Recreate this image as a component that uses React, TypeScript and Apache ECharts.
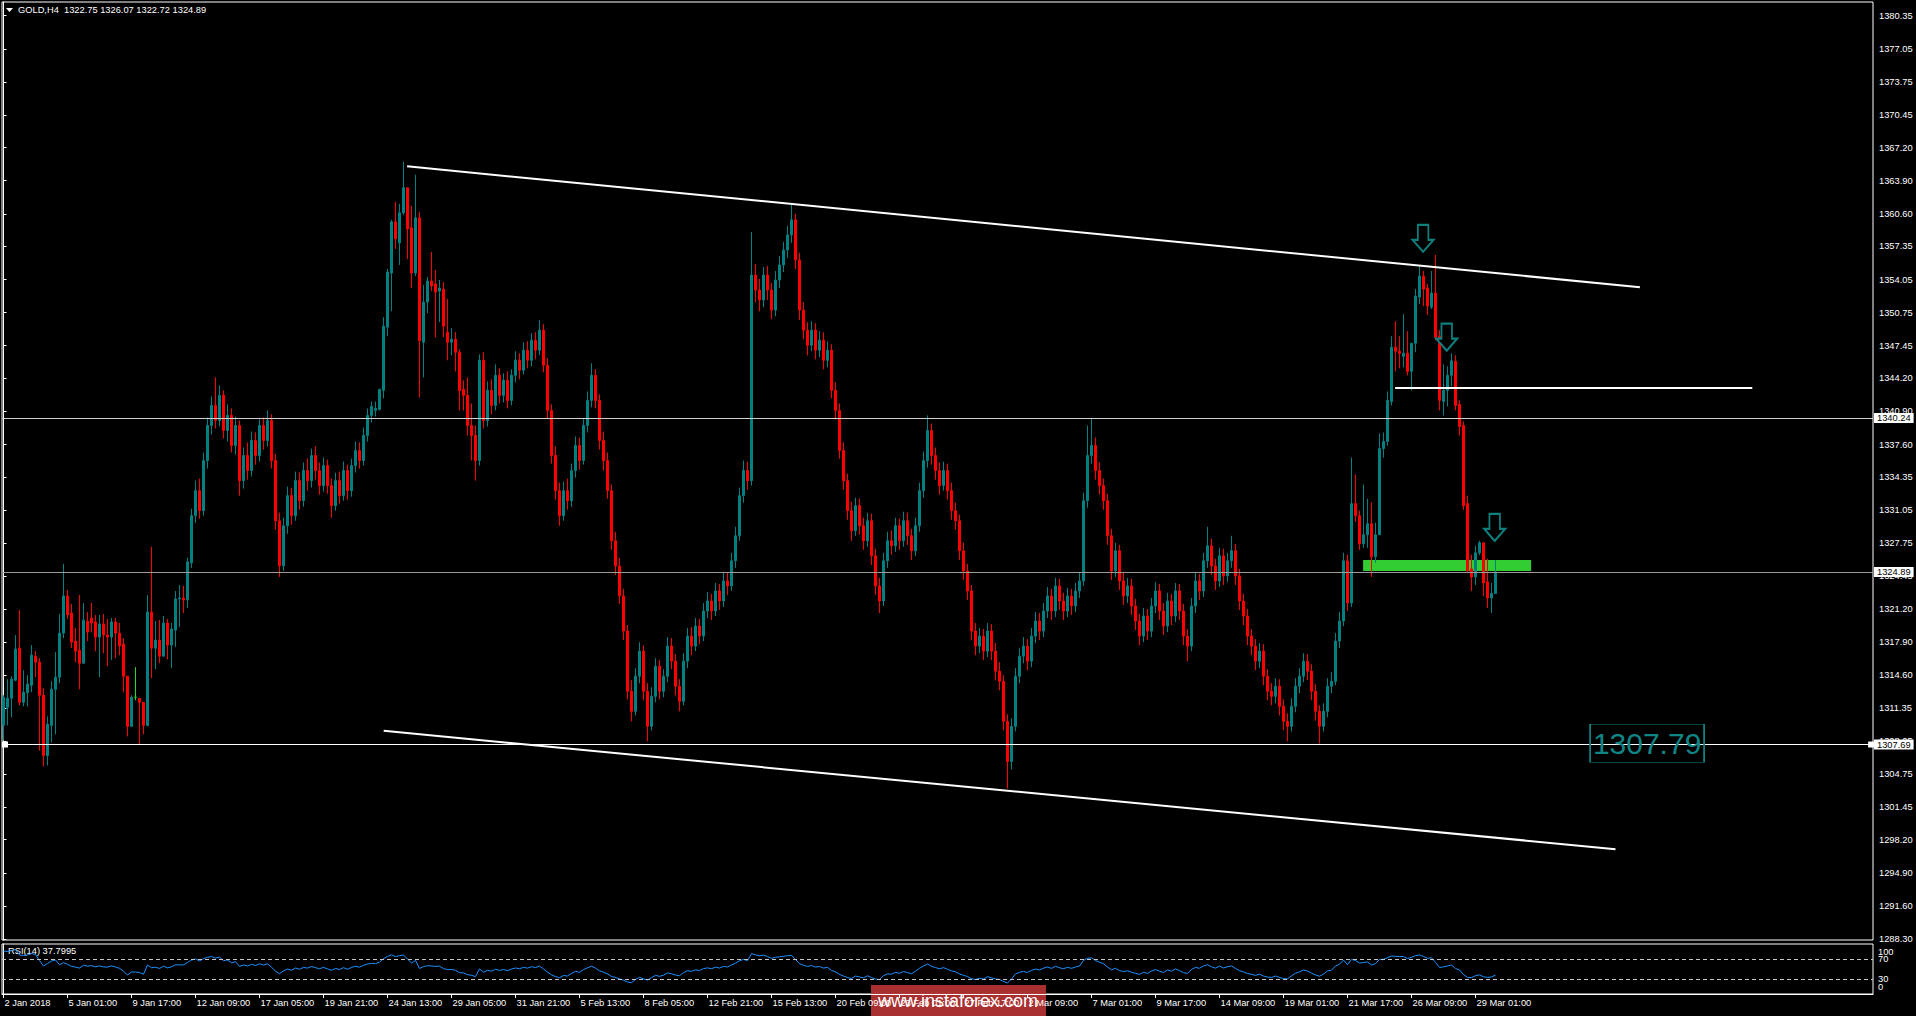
import React, { useEffect, useRef } from 'react';
import * as echarts from 'echarts';

// [open, close, low, high] per H4 bar
const ohlc: number[][] = [
[1309.6,1312.4,1308.1,1312.6],[1311.4,1312.3,1309.6,1314.2],[1312.3,1314.2,1310.4,1314.5],[1314.1,1317.2,1314.0,1318.6],[1317.3,1311.9,1311.6,1321.1],
[1311.9,1312.9,1311.5,1315.1],[1312.85,1313.7,1311.5,1314.6],[1313.6,1316.6,1312.9,1317.6],[1316.5,1315.9,1314.4,1317.0],[1315.9,1312.6,1307.1,1316.3],
[1312.6,1306.6,1305.5,1313.3],[1306.6,1309.7,1305.6,1310.5],[1309.6,1313.2,1307.9,1314.0],[1313.2,1314.4,1308.7,1316.9],[1314.4,1318.8,1313.8,1320.7],
[1318.8,1322.5,1318.3,1325.7],[1322.5,1320.6,1320.2,1323.1],[1320.8,1317.9,1317.3,1321.7],[1318.0,1317.0,1315.9,1319.3],[1317.1,1315.8,1313.2,1322.6],
[1315.8,1320.1,1315.8,1321.8],[1320.0,1318.9,1318.0,1320.9],[1320.3,1319.8,1318.9,1321.8],[1319.9,1318.4,1317.0,1320.6],[1318.4,1319.7,1314.4,1320.6],
[1319.7,1318.6,1316.8,1320.7],[1318.6,1318.4,1315.5,1320.2],[1318.4,1319.9,1316.1,1320.3],[1319.9,1318.8,1316.3,1320.3],[1318.8,1317.5,1316.6,1319.8],
[1317.7,1314.5,1312.9,1318.3],[1314.5,1309.5,1308.5,1314.5],[1309.5,1312.4,1309.5,1312.6],[1312.4,1312.4,1312.1,1315.4],[1312.3,1311.9,1307.7,1312.3],
[1311.9,1309.6,1308.7,1311.9],[1309.6,1320.9,1309.5,1322.6],[1320.9,1317.3,1314.3,1327.4],[1317.3,1318.1,1315.2,1320.0],[1318.1,1316.5,1315.8,1320.1],
[1316.5,1319.8,1316.5,1320.5],[1319.8,1317.6,1316.2,1320.2],[1317.6,1319.2,1315.3,1319.8],[1319.1,1322.2,1317.4,1323.0],[1322.2,1322.3,1319.4,1323.6],
[1322.3,1322.1,1320.8,1323.5],[1322.1,1325.9,1321.3,1326.3],
// 47
[1325.8,1330.5,1325.3,1331.2],[1330.5,1333.0,1329.8,1334.0],[1333.0,1331.0,1330.2,1334.2],
[1331.0,1336.0,1330.5,1336.8],[1336.0,1339.5,1335.2,1340.3],[1339.5,1341.5,1338.6,1342.4],[1341.5,1340.0,1339.2,1344.3],[1340.0,1342.5,1339.4,1343.5],
[1342.5,1339.0,1338.2,1343.0],[1339.0,1340.5,1337.9,1341.6],[1340.5,1337.5,1336.8,1341.2],[1337.5,1339.5,1336.6,1340.4],[1339.5,1334.0,1332.5,1340.0],
[1334.0,1336.5,1333.2,1337.3],[1336.5,1335.0,1334.1,1337.8],[1335.0,1338.0,1334.4,1338.9],[1338.0,1336.5,1335.6,1338.8],[1336.5,1339.5,1335.9,1340.1],
[1339.5,1338.0,1337.1,1340.3],[1338.0,1340.0,1337.4,1341.0],[1340.0,1336.0,1335.2,1340.6],[1336.0,1330.0,1329.1,1336.7],[1330.0,1325.5,1324.4,1330.8],
[1325.5,1329.5,1325.0,1330.3],[1329.5,1332.5,1328.7,1333.4],[1332.5,1330.5,1329.6,1333.3],[1330.5,1334.0,1330.0,1334.9],[1334.0,1332.0,1331.1,1334.8],
[1332.0,1335.0,1331.4,1335.8],[1335.0,1334.0,1333.0,1336.2],[1334.0,1336.5,1333.3,1337.2],[1336.5,1335.0,1334.1,1337.4],[1335.0,1333.5,1332.6,1335.8],
[1333.5,1335.5,1332.9,1336.3],[1335.5,1333.5,1332.7,1336.1],[1333.5,1331.5,1330.3,1334.2],[1331.5,1334.0,1331.0,1334.8],[1334.0,1332.5,1331.7,1334.9],
[1332.5,1335.0,1332.0,1335.9],[1335.0,1333.0,1332.1,1335.6],[1333.0,1335.5,1332.4,1336.2],[1335.5,1337.0,1334.8,1337.9],[1337.0,1336.0,1335.2,1337.8],
[1336.0,1338.5,1335.5,1339.3],[1338.5,1340.5,1337.9,1341.2],[1340.5,1341.4,1339.8,1341.9],[1341.0,1341.2,1340.4,1341.9],
// 94
[1341.1,1343.1,1341.0,1343.1],[1343.0,1349.4,1342.2,1350.3],[1349.3,1354.8,1348.4,1355.1],[1354.7,1359.8,1350.9,1360.0],[1359.8,1358.1,1357.1,1361.8],
[1357.7,1360.7,1355.5,1361.6],[1360.7,1363.2,1360.5,1365.8],[1363.2,1359.1,1356.1,1363.2],[1359.2,1354.7,1353.2,1361.4],[1354.7,1360.2,1354.4,1364.5],
[1360.2,1347.95,1342.3,1360.8],[1347.8,1351.8,1344.3,1353.5],[1351.8,1353.9,1350.7,1354.3],[1353.9,1353.4,1352.9,1356.8],[1353.6,1352.8,1348.3,1355.0],
[1352.9,1353.2,1349.8,1354.0],[1353.1,1349.4,1348.3,1353.8],[1348.8,1347.8,1346.0,1352.1],[1347.8,1348.1,1346.5,1349.2],[1348.1,1346.8,1344.9,1348.8],
[1346.8,1342.95,1341.0,1347.1],[1343.1,1342.5,1341.0,1344.0],
// 116
[1342.5,1339.5,1338.5,1344.3],[1339.5,1338.5,1336.0,1341.7],[1338.5,1336.0,1334.0,1339.5],[1336.0,1346.0,1335.5,1346.6],
// 120
[1346.0,1340.0,1339.2,1346.8],[1340.0,1343.0,1339.4,1343.9],[1343.0,1341.5,1340.6,1344.1],[1341.5,1344.5,1341.0,1345.6],[1344.5,1342.5,1341.7,1345.2],
[1342.5,1344.0,1341.8,1344.7],[1344.0,1342.0,1341.2,1344.9],[1342.0,1344.5,1341.5,1345.1],[1344.5,1346.0,1343.8,1346.9],[1346.0,1345.0,1344.1,1346.7],
[1345.0,1347.0,1344.6,1347.8],[1347.0,1346.0,1345.2,1347.9],[1346.0,1348.0,1345.4,1348.7],[1348.0,1347.0,1346.1,1348.8],[1347.0,1349.0,1346.5,1350.0],
[1349.0,1345.5,1344.8,1349.6],[1345.5,1341.0,1340.2,1346.2],[1341.0,1336.5,1335.7,1341.6],[1336.5,1333.0,1332.1,1337.4],[1333.0,1330.5,1329.5,1333.8],
// 140
[1330.5,1333.0,1330.0,1333.9],[1333.0,1332.0,1331.1,1334.2],[1332.0,1335.0,1331.4,1335.7],[1335.0,1337.5,1334.3,1338.4],[1337.5,1336.0,1335.1,1338.3],
[1336.0,1339.5,1335.6,1340.2],[1339.5,1342.0,1338.8,1342.9],[1342.0,1344.5,1341.3,1345.7],[1344.5,1342.0,1341.2,1345.1],[1342.0,1338.0,1337.1,1342.6],
[1338.0,1336.0,1335.0,1338.9],[1336.0,1333.0,1332.2,1336.8],[1333.0,1328.0,1327.1,1333.6],[1328.0,1325.5,1324.6,1328.9],[1325.5,1322.5,1321.7,1326.3],
[1322.5,1319.0,1318.1,1323.2],[1319.0,1313.0,1312.2,1319.6],[1313.0,1311.0,1310.0,1314.1],[1311.0,1314.5,1310.6,1315.3],[1314.5,1317.0,1313.8,1317.9],
// 160
[1317.0,1313.0,1312.1,1317.6],[1313.0,1309.5,1308.0,1313.8],[1309.5,1312.5,1309.1,1313.4],[1312.5,1315.5,1311.9,1316.3],[1315.5,1313.0,1312.2,1316.1],
[1313.0,1314.5,1312.4,1315.2],[1314.5,1317.5,1313.9,1318.4],[1317.5,1316.0,1315.2,1318.3],[1316.0,1313.5,1312.6,1316.7],[1313.5,1312.0,1311.0,1314.2],
[1312.0,1316.0,1311.6,1316.8],[1316.0,1318.5,1315.3,1319.3],[1318.5,1317.5,1316.6,1319.4],[1317.5,1319.5,1317.0,1320.3],[1319.5,1318.5,1317.7,1320.2],
[1318.5,1321.0,1318.0,1321.8],[1321.0,1322.0,1320.3,1322.9],[1322.0,1321.0,1320.1,1322.7],[1321.0,1323.0,1320.5,1323.8],[1323.0,1322.0,1321.1,1323.7],
// 180
[1322.0,1324.0,1321.4,1324.9],[1324.0,1323.5,1322.6,1324.8],[1323.5,1326.0,1323.0,1326.8],[1326.0,1328.5,1325.3,1329.4],[1328.5,1332.5,1328.0,1333.3],
[1332.5,1335.0,1331.8,1336.0],[1335.0,1334.0,1333.1,1335.9],[1334.0,1354.5,1333.5,1358.8],[1354.5,1353.0,1351.8,1355.6],[1353.0,1352.0,1350.9,1354.1],
[1352.0,1354.5,1351.3,1355.3],[1354.5,1353.0,1352.0,1355.4],[1353.0,1351.0,1350.1,1353.7],[1351.0,1354.0,1350.4,1354.9],[1354.0,1355.5,1353.2,1356.4],
[1355.5,1357.0,1354.8,1357.8],[1357.0,1358.5,1356.2,1359.4],[1358.5,1360.0,1357.7,1361.5],[1360.0,1356.0,1355.1,1360.6],[1356.0,1351.0,1350.0,1356.7],
// 200
[1351.0,1349.0,1348.1,1351.8],[1349.0,1347.5,1346.5,1349.8],[1347.5,1349.0,1346.9,1349.9],[1349.0,1347.0,1346.1,1349.7],[1347.0,1348.0,1346.3,1348.9],
[1348.0,1346.0,1345.1,1348.8],[1346.0,1347.0,1345.3,1347.9],[1347.0,1343.0,1342.2,1347.6],[1343.0,1341.0,1340.1,1343.8],[1341.0,1337.0,1336.2,1341.7],
[1337.0,1334.0,1333.1,1337.8],[1334.0,1331.0,1330.1,1334.7],[1331.0,1329.0,1328.0,1331.9],[1329.0,1331.5,1328.5,1332.3],[1331.5,1329.5,1328.6,1332.2],
[1329.5,1328.0,1327.1,1330.3],[1328.0,1330.0,1327.4,1330.8],[1330.0,1326.5,1325.6,1330.7],[1326.5,1323.5,1322.6,1327.2],[1323.5,1322.0,1320.8,1324.3],
// 220
[1322.0,1326.0,1321.5,1326.8],[1326.0,1328.0,1325.3,1328.9],[1328.0,1327.5,1326.6,1329.0],[1327.5,1329.5,1326.9,1330.3],[1329.5,1328.0,1327.1,1330.2],
[1328.0,1330.0,1327.4,1330.9],[1330.0,1328.5,1327.6,1330.8],[1328.5,1327.0,1326.1,1329.2],[1327.0,1329.5,1326.5,1330.3],[1329.5,1333.0,1328.9,1333.8],
[1333.0,1336.0,1332.3,1336.9],[1336.0,1339.0,1335.3,1340.5],[1339.0,1336.5,1335.6,1339.7],[1336.5,1335.0,1334.1,1337.3],[1335.0,1333.5,1332.6,1335.8],
[1333.5,1335.0,1333.0,1335.9],[1335.0,1333.0,1332.1,1335.7],[1333.0,1331.0,1330.1,1333.8],[1331.0,1330.0,1329.1,1331.8],[1330.0,1327.0,1326.1,1330.6],
// 240
[1327.0,1325.0,1324.1,1327.8],[1325.0,1323.0,1322.1,1325.7],[1323.0,1319.0,1318.1,1323.6],[1319.0,1317.5,1316.6,1319.8],[1317.5,1318.5,1316.8,1319.3],
[1318.5,1317.0,1316.1,1319.2],[1317.0,1319.0,1316.4,1319.8],[1319.0,1317.0,1316.1,1319.7],[1317.0,1315.0,1314.1,1317.8],[1315.0,1314.0,1313.1,1315.9],
[1314.0,1310.0,1309.1,1314.6],[1310.0,1306.0,1303.3,1310.7],[1306.0,1309.5,1305.2,1310.3],[1309.5,1314.5,1309.0,1315.3],[1314.5,1316.5,1313.8,1317.3],
[1316.5,1317.5,1315.8,1318.4],[1317.5,1316.0,1315.1,1318.2],[1316.0,1318.5,1315.4,1319.3],[1318.5,1320.0,1317.8,1320.9],[1320.0,1319.0,1318.1,1320.8],
// 260
[1319.0,1321.0,1318.4,1321.8],[1321.0,1322.5,1320.3,1323.4],[1322.5,1321.0,1320.1,1323.2],[1321.0,1323.5,1320.4,1324.3],[1323.5,1322.0,1321.1,1324.2],
[1322.0,1321.0,1320.1,1322.8],[1321.0,1322.5,1320.4,1323.3],[1322.5,1321.5,1320.6,1323.2],[1321.5,1323.0,1320.9,1323.8],[1323.0,1324.0,1322.3,1324.9],
[1324.0,1332.0,1323.5,1332.8],[1332.0,1336.5,1331.3,1339.5],[1336.5,1337.5,1335.7,1340.2],[1337.5,1335.0,1334.1,1338.3],[1335.0,1333.5,1332.6,1335.8],
[1333.5,1332.0,1331.1,1334.2],[1332.0,1328.5,1327.6,1332.7],[1328.5,1325.0,1324.1,1329.2],[1325.0,1327.0,1324.4,1327.8],[1327.0,1324.0,1323.1,1327.6],
// 280
[1324.0,1322.5,1321.6,1324.8],[1322.5,1323.5,1321.8,1324.3],[1323.5,1321.5,1320.6,1324.2],[1321.5,1320.0,1319.1,1322.2],[1320.0,1318.5,1317.6,1320.7],
[1318.5,1320.5,1317.9,1321.3],[1320.5,1319.0,1318.1,1321.2],[1319.0,1321.5,1318.4,1322.3],[1321.5,1323.0,1320.8,1323.9],[1323.0,1321.0,1320.1,1323.7],
[1321.0,1319.5,1318.6,1321.8],[1319.5,1322.0,1318.9,1322.8],[1322.0,1320.5,1319.6,1322.7],[1320.5,1323.0,1319.9,1323.8],[1323.0,1321.0,1320.1,1323.7],
[1321.0,1318.5,1317.6,1321.7],[1318.5,1317.5,1316.0,1319.2],[1317.5,1321.5,1317.0,1322.3],[1321.5,1324.0,1320.8,1324.9],[1324.0,1323.0,1322.1,1324.7],
// 300
[1323.0,1326.0,1322.4,1326.8],[1326.0,1327.5,1325.3,1329.4],[1327.5,1325.5,1324.6,1328.2],[1325.5,1324.0,1323.1,1326.2],[1324.0,1326.5,1323.4,1327.3],
[1326.5,1324.5,1323.6,1327.2],[1324.5,1326.0,1323.9,1326.8],[1326.0,1327.0,1325.3,1328.5],[1327.0,1324.5,1323.6,1327.7],[1324.5,1322.0,1321.1,1325.2],
[1322.0,1320.5,1319.6,1322.7],[1320.5,1318.5,1317.6,1321.2],[1318.5,1317.5,1316.6,1319.2],[1317.5,1316.0,1315.1,1318.2],[1316.0,1317.0,1315.3,1317.8],
[1317.0,1314.5,1313.6,1317.7],[1314.5,1313.0,1312.1,1315.2],[1313.0,1312.5,1311.6,1313.8],[1312.5,1313.5,1311.8,1314.3],[1313.5,1311.5,1310.6,1314.2],
// 320
[1311.5,1310.0,1309.1,1312.2],[1310.0,1309.5,1308.0,1310.8],[1309.5,1311.5,1309.0,1312.3],[1311.5,1313.5,1310.9,1314.3],[1313.5,1314.5,1312.8,1315.3],
[1314.5,1316.0,1313.9,1316.8],[1316.0,1315.0,1314.1,1316.7],[1315.0,1313.0,1312.1,1315.7],[1313.0,1311.0,1310.1,1313.7],[1311.0,1309.5,1307.8,1311.6],
[1309.5,1311.0,1309.0,1311.8],[1311.0,1313.5,1310.4,1314.3],[1313.5,1314.0,1312.8,1314.9],[1314.0,1318.0,1313.6,1318.8],[1318.0,1320.0,1317.3,1320.9],
[1320.0,1326.0,1319.5,1326.8],[1326.0,1321.8,1321.0,1326.6],
// 337
[1321.8,1331.7,1321.4,1336.3],[1331.7,1330.5,1329.9,1334.6],[1330.5,1327.7,1327.1,1331.0],
[1327.7,1328.6,1327.3,1333.6],[1328.6,1329.7,1327.3,1332.2],[1329.7,1326.4,1324.4,1331.8],[1326.4,1328.6,1325.8,1329.8],[1328.6,1337.2,1328.6,1338.7],
[1337.2,1337.9,1336.3,1338.8],[1337.9,1342.0,1337.5,1342.9],[1341.9,1347.3,1341.5,1348.4],[1347.3,1346.9,1344.9,1349.9],[1346.9,1346.7,1345.2,1348.4],
[1346.4,1346.7,1345.3,1350.6],[1346.7,1344.9,1344.5,1348.9],[1344.9,1347.7,1343.0,1347.7],[1347.7,1352.4,1346.8,1353.1],[1352.3,1354.4,1351.6,1355.5],
[1354.4,1353.1,1351.4,1354.9],[1353.2,1351.4,1350.5,1353.6],[1351.3,1352.7,1351.1,1354.9],[1352.7,1348.3,1348.0,1356.5],[1348.4,1342.0,1341.0,1349.0],
[1341.9,1343.0,1340.5,1345.6],[1343.0,1344.5,1341.4,1345.4],[1344.5,1345.95,1343.4,1346.7],[1345.9,1341.5,1341.0,1346.5],[1341.6,1339.4,1338.5,1342.0],
[1339.5,1331.5,1331.1,1339.9],[1331.7,1325.0,1324.8,1332.5],[1325.2,1324.4,1323.0,1326.6],[1324.4,1326.8,1323.6,1327.5],[1326.8,1327.8,1326.6,1328.0],
[1327.8,1323.8,1322.5,1327.8],[1323.9,1322.3,1321.3,1326.2],[1322.3,1322.75,1320.8,1323.8],[1322.75,1324.89,1322.72,1326.07]
];

// RSI(14) for the first bars (history before the visible window)
const rsiHead = [86, 85, 87, 89, 78, 77, 78, 81, 79, 67, 56, 61, 66, 68];
const rsiLevels = [30, 70];
const rsiEdgeLabels = ['100', '0'];

const dateLabels = [
  '2 Jan 2018', '5 Jan 01:00', '9 Jan 17:00', '12 Jan 09:00', '17 Jan 05:00', '19 Jan 21:00',
  '24 Jan 13:00', '29 Jan 05:00', '31 Jan 21:00', '5 Feb 13:00', '8 Feb 05:00', '12 Feb 21:00',
  '15 Feb 13:00', '20 Feb 09:00', '23 Feb 01:00', '27 Feb 17:00', '2 Mar 09:00', '7 Mar 01:00',
  '9 Mar 17:00', '14 Mar 09:00', '19 Mar 01:00', '21 Mar 17:00', '26 Mar 09:00', '29 Mar 01:00'
];
const barsPerDateLabel = 16;

const priceTickLabels = [
  '1288.30', '1291.60', '1294.90', '1298.20', '1301.45', '1304.75', '1308.05', '1311.35', '1314.60',
  '1317.90', '1321.20', '1324.45', '1327.75', '1331.05', '1334.35', '1337.60', '1340.90', '1344.20',
  '1347.45', '1350.75', '1354.05', '1357.35', '1360.60', '1363.90', '1367.20', '1370.45', '1373.75',
  '1377.05', '1380.35'
];

// annotations (data coordinates: [bar index, price])
const upperTrend = [[100.9, 1365.34], [409.1, 1353.28]];
const lowerTrend = [[95.05, 1309.06], [403.0, 1297.25]];
const resistanceSeg = [[347.9, 1343.3], [437.2, 1343.3]];
const hLines = [1340.24, 1324.89, 1307.69];
const greenZone = [[339.9, 1326.08], [381.9, 1324.99]];
const arrows = [[354.9, 1358.16], [360.8, 1348.3], [372.8, 1329.34]];
const priceNote = { at: [410.9, 1307.82], text: '1307.79' };
const lineHandles = [[0.375, 1307.69], [466.9, 1307.69]];

const titleText = 'GOLD,H4  1322.75 1326.07 1322.72 1324.89';
const rsiText = 'RSI(14) 37.7995';

const FONT = '"Liberation Sans", Arial, sans-serif';
const FS = 9.3;
const UP = '#008080';
const DOWN = '#ff0000';
const DOJI = '#22dd22';
const XMIN = -0.375;
const XMAX = 467.375;

function rsi(closes: number[], period: number, head: number[]) {
  const out: (number | null)[] = head.slice();
  let ag = 0, al = 0;
  for (let i = 1; i <= period; i++) {
    const d = closes[i] - closes[i - 1];
    ag += Math.max(d, 0); al += Math.max(-d, 0);
  }
  ag /= period; al /= period;
  out.push(al === 0 ? 100 : 100 - 100 / (1 + ag / al));
  for (let i = period + 1; i < closes.length; i++) {
    const d = closes[i] - closes[i - 1];
    ag = (ag * (period - 1) + Math.max(d, 0)) / period;
    al = (al * (period - 1) + Math.max(-d, 0)) / period;
    out.push(al === 0 ? 100 : 100 - 100 / (1 + ag / al));
  }
  return out;
}

export default function App() {
  const ref = useRef<HTMLDivElement>(null);
  useEffect(() => {
    document.body.style.margin = '0';
    document.body.style.background = '#000';
    const chart = echarts.init(ref.current!, null, { renderer: 'svg' });
    const closes = ohlc.map(r => r[1]);
    const rsiVals = rsi(closes, 14, rsiHead);
    const candleData = ohlc.map((r, i) => {
      const v = [i, r[0], r[1], r[2], r[3]];
      return r[0] === r[1]
        ? { value: v, itemStyle: { color: DOJI, color0: DOJI, borderColor: DOJI, borderColor0: DOJI } }
        : v;
    });
    const priceBox = (txt: string) => ({
      show: true, position: 'end', distance: 1, formatter: txt, color: '#000', backgroundColor: '#fff',
      padding: [1, 3, 0, 3], fontSize: FS, fontFamily: FONT,
    });
    const arrowPath = 'path://M5.25,0L15.75,0L15.75,15L21,15L10.5,27L0,15L5.25,15Z';
    const option: any = {
      animation: false,
      backgroundColor: '#000',
      grid: [
        { left: 2, top: 2, width: 1871, height: 938, show: true, borderColor: '#fff', borderWidth: 1, backgroundColor: '#000' },
        { left: 2, top: 944, width: 1871, height: 50, show: true, borderColor: '#fff', borderWidth: 1, backgroundColor: '#000' },
      ],
      xAxis: [
        { type: 'value', gridIndex: 0, min: XMIN, max: XMAX, axisLine: { show: false }, axisTick: { show: false }, axisLabel: { show: false }, splitLine: { show: false } },
        {
          type: 'value', gridIndex: 1, min: XMIN, max: XMAX, position: 'bottom',
          axisLine: { show: true, lineStyle: { color: '#fff', width: 1 } },
          axisTick: { show: true, length: 4, lineStyle: { color: '#fff' }, customValues: dateLabels.map((_, k) => k * barsPerDateLabel) },
          axisLabel: {
            show: true, customValues: dateLabels.map((_, k) => k * barsPerDateLabel),
            formatter: (v: number) => dateLabels[Math.round(v / barsPerDateLabel)] || '',
            color: '#fff', fontSize: FS, fontFamily: FONT, align: 'left', margin: 4, padding: [0, 0, 0, 1],
            showMinLabel: true, showMaxLabel: true,
          },
          splitLine: { show: false },
        },
      ],
      yAxis: [
        {
          type: 'value', gridIndex: 0, position: 'right', min: 1288.2, max: 1381.72, scale: true,
          axisLine: { show: true, lineStyle: { color: '#fff', width: 1 } },
          axisTick: { show: true, inside: false, length: 3, lineStyle: { color: '#fff' }, customValues: priceTickLabels.map(Number) },
          axisLabel: { show: true, customValues: priceTickLabels.map(Number), formatter: (v: number) => v.toFixed(2), color: '#fff', fontSize: FS, fontFamily: FONT, margin: 6, showMinLabel: true, showMaxLabel: true },
          splitLine: { show: false },
        },
        {
          type: 'value', gridIndex: 1, position: 'right', min: 0, max: 100,
          axisLine: { show: true, lineStyle: { color: '#fff', width: 1 } },
          axisTick: { show: false },
          axisLabel: {
            show: true, customValues: rsiLevels, margin: 5, color: '#fff', fontSize: FS, fontFamily: FONT,
            formatter: (v: number) => String(v),
          },
          splitLine: { show: false },
        },
      ],
      series: [
        {
          type: 'candlestick', xAxisIndex: 0, yAxisIndex: 0,
          dimensions: ['i', 'open', 'close', 'low', 'high'],
          encode: { x: 0, y: [1, 2, 3, 4] },
          data: candleData, barWidth: 2,
          itemStyle: { color: UP, color0: DOWN, borderColor: UP, borderColor0: DOWN, borderWidth: 1 },
          markArea: {
            silent: true, itemStyle: { color: '#32cd32', opacity: 1 },
            data: [[{ coord: greenZone[0] }, { coord: greenZone[1] }]],
          },
          markLine: {
            silent: true, symbol: ['none', 'none'], label: { show: false },
            data: [
              [{ coord: upperTrend[0], lineStyle: { color: '#fff', width: 2, type: 'solid' } }, { coord: upperTrend[1] }],
              [{ coord: lowerTrend[0], lineStyle: { color: '#fff', width: 2, type: 'solid' } }, { coord: lowerTrend[1] }],
              [{ coord: resistanceSeg[0], lineStyle: { color: '#fff', width: 2, type: 'solid' } }, { coord: resistanceSeg[1] }],
              { yAxis: hLines[0], lineStyle: { color: '#d0d0d0', width: 1, type: 'solid' }, label: priceBox(hLines[0].toFixed(2)) },
              { yAxis: hLines[1], lineStyle: { color: '#9a9a9a', width: 1, type: 'solid' }, label: priceBox(hLines[1].toFixed(2)) },
              { yAxis: hLines[2], lineStyle: { color: '#ffffff', width: 1, type: 'solid' }, label: priceBox(hLines[2].toFixed(2)) },
            ],
          },
          markPoint: {
            silent: true, label: { show: false },
            data: [
              ...arrows.map(a => ({ coord: a, symbol: arrowPath, symbolSize: [21, 27], itemStyle: { color: '#000', borderColor: '#0f7f7e', borderWidth: 2 } })),
              {
                coord: priceNote.at, symbol: 'rect', symbolSize: [114, 38],
                itemStyle: { color: 'rgba(0,0,0,0)', borderColor: '#108585', borderWidth: 1 },
                label: { show: true, position: 'inside', formatter: priceNote.text, color: '#108585', fontSize: 30, fontFamily: FONT },
              },
              ...lineHandles.map(h => ({ coord: h, symbol: 'rect', symbolSize: 6, itemStyle: { color: '#fff' } })),
            ],
          },
        },
        {
          type: 'line', xAxisIndex: 1, yAxisIndex: 1, symbol: 'none',
          data: rsiVals.map((v, i) => [i, v]),
          lineStyle: { color: '#1e90ff', width: 1 },
          markLine: {
            silent: true, symbol: ['none', 'none'], label: { show: false },
            lineStyle: { color: '#c8c8c8', width: 1, type: [4, 3] },
            data: rsiLevels.map(l => ({ yAxis: l })),
          },
        },
      ],
      graphic: [
        { type: 'polygon', shape: { points: [[6, 8], [13, 8], [9.5, 12]] }, style: { fill: '#fff' } },
        { type: 'text', x: 18, y: 10, style: { text: titleText, fill: '#fff', fontSize: FS, fontFamily: FONT, verticalAlign: 'middle', align: 'left' } },
        { type: 'text', x: 8, y: 951, style: { text: rsiText, fill: '#fff', fontSize: FS, fontFamily: FONT, verticalAlign: 'middle', align: 'left' } },
        { type: 'text', x: 1878, y: 951.5, style: { text: rsiEdgeLabels[0], fill: '#fff', fontSize: FS, fontFamily: FONT, verticalAlign: 'middle', align: 'left' } },
        { type: 'text', x: 1878, y: 987, style: { text: rsiEdgeLabels[1], fill: '#fff', fontSize: FS, fontFamily: FONT, verticalAlign: 'middle', align: 'left' } },
        { type: 'rect', x: 871, y: 985, shape: { width: 175, height: 31 }, style: { fill: 'rgba(176,50,50,0.96)' } },
        { type: 'text', x: 958, y: 1001, style: { text: 'www.instaforex.com', fill: '#fff', fontSize: 18, fontFamily: FONT, verticalAlign: 'middle', align: 'center' } },
      ],
    };
    chart.setOption(option);
    return () => chart.dispose();
  }, []);
  return <div ref={ref} style={{ width: 1916, height: 1016, background: '#000' }} />;
}
